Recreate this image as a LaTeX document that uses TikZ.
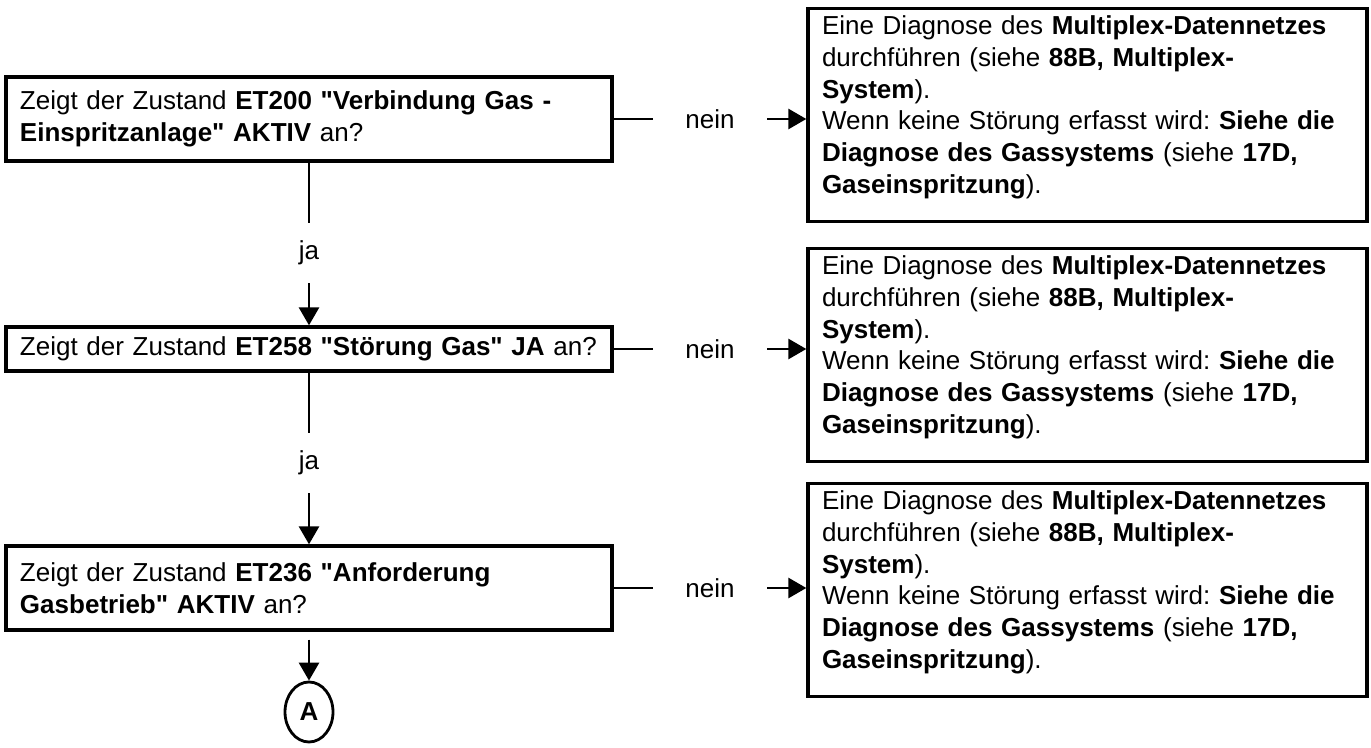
\documentclass[tikz,border=0pt]{standalone}
\usepackage{fontspec}
\setmainfont{Liberation Sans}[Ligatures=TeXOff]
\frenchspacing
\usetikzlibrary{%
        arrows.meta,
        positioning,
        shapes.geometric
    }
\tikzset{%
    every node/.style={font=\fontsize{14.8}{18.1}\selectfont},
    question/.style={draw, line width=1.9pt, text width=11.56cm,
        inner xsep=0.28cm, align=left},
    action/.style={draw, line width=1.9pt, text width=10.62cm,
        inner xsep=0.28cm, minimum height=4.26cm, align=left},
    answer/.style={inner sep=0pt, minimum width=2.28cm, minimum height=1.2cm},
    flowarrow/.style={line width=1.6pt, -{Triangle[length=0.36cm, width=0.4cm]}},
    flowline/.style={line width=1.6pt}
}
\newcommand{\gasdiag}{%
    Eine Diagnose des \textbf{Multiplex-Datennetzes}\\
    durchführen (siehe \textbf{88B, Multiplex-}\\
    \textbf{System}).\\
    Wenn keine Störung erfasst wird: \textbf{Siehe die}\\
    \textbf{Diagnose des Gassystems} (siehe \textbf{17D,}\\
    \textbf{Gaseinspritzung}).\rule[-0.42cm]{0pt}{0.42cm}%
}

\begin{document}
\begin{tikzpicture}

    \useasboundingbox (0, 0) rectangle (27.42, -14.96);

    % Questions
    \node[question, minimum height=1.68cm] (check1) at (6.18, -2.38)
        {Zeigt der Zustand \textbf{ET200 "Verbindung Gas -}\\
         \textbf{Einspritzanlage" AKTIV} an?};
    \node[question, minimum height=0.88cm] (check2) at (6.18, -6.98)
        {Zeigt der Zustand \textbf{ET258 "Störung Gas" JA} an?};
    \node[question, minimum height=1.68cm] (check3) at (6.18, -11.76)
        {Zeigt der Zustand \textbf{ET236 "Anforderung}\\
         \textbf{Gasbetrieb" AKTIV} an?};

    % Actions
    \node[action] (action1) at (21.75, -2.30) {\gasdiag};
    \node[action] (action2) at (21.75, -7.10) {\gasdiag};
    \node[action] (action3) at (21.75, -11.80) {\gasdiag};

    % Answers
    \node[answer] (yes1) at (6.18, -5.06) {ja};
    \node[answer] (yes2) at (6.18, -9.26) {ja};
    \node[answer] (no1) at (14.2 , -2.38) {nein};
    \node[answer] (no2) at (14.2 , -6.98) {nein};
    \node[answer] (no3) at (14.2 , -11.76) {nein};

    \node[ellipse, draw, line width=1.6pt, inner sep=0pt,
        minimum width=0.96cm, minimum height=1.2cm] (goA) at (6.18, -14.24)
        {\textbf{A}};

    % Connecting up
    \draw[flowline] (check1.south) -- (yes1.north);
    \draw[flowarrow] (yes1.south) -- (check2.north);
    \draw[flowline] (check2.south) -- (yes2.north);
    \draw[flowarrow] (yes2.south) -- (check3.north);
    \draw[flowarrow, shorten <=0.16cm] (check3.south) -- (goA.north);

    \foreach \i in {1, 2, 3}{%
        \draw[flowline] (check\i.east) -- (no\i.west);
        \draw[flowarrow] (no\i.east) -- (no\i.east -| action\i.west);
    };

\end{tikzpicture}
\end{document}
